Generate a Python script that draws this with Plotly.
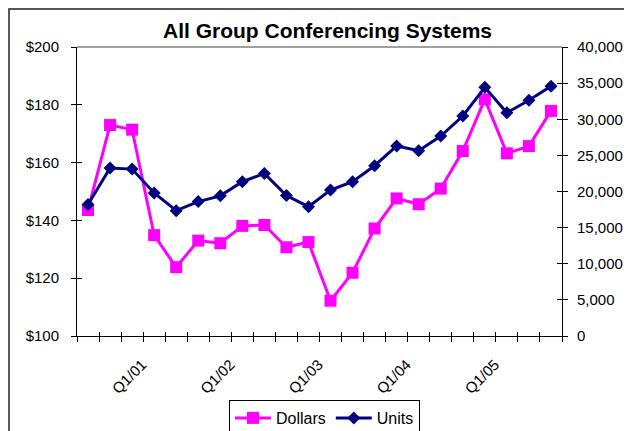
import plotly.graph_objects as go

quarters = ["Q2/00", "Q3/00", "Q4/00", "Q1/01", "Q2/01", "Q3/01", "Q4/01",
            "Q1/02", "Q2/02", "Q3/02", "Q4/02", "Q1/03", "Q2/03", "Q3/03",
            "Q4/03", "Q1/04", "Q2/04", "Q3/04", "Q4/04", "Q1/05", "Q2/05", "Q3/05"]
dollars = [143.6, 173.0, 171.4, 134.9, 123.8, 133.0, 132.1, 138.1, 138.4, 130.7, 132.5,
           112.2, 121.9, 137.2, 147.6, 145.6, 151.0, 164.0, 181.9, 163.2, 165.7, 177.9]
units = [18200, 23250, 23100, 19800, 17350, 18600, 19400, 21360, 22500, 19450, 17900,
         20200, 21360, 23570, 26300, 25650, 27680, 30450, 34420, 30900, 32620, 34560]
label_quarters = ["Q1/01", "Q1/02", "Q1/03", "Q1/04", "Q1/05"]

FONT = "Liberation Sans, Arial, sans-serif"
idx = list(range(len(quarters)))
label_idx = [quarters.index(q) for q in label_quarters]
n = len(quarters)
boundaries = [i - 0.5 for i in range(n + 1)]

fig = go.Figure()
fig.add_trace(go.Scatter(
    x=idx, y=dollars, name="Dollars", mode="lines+markers",
    line=dict(color="#FF00FF", width=3),
    marker=dict(symbol="square", size=12, color="#FF00FF"),
    yaxis="y", cliponaxis=False))
fig.add_trace(go.Scatter(
    x=idx, y=units, name="Units", mode="lines+markers",
    line=dict(color="#000080", width=3),
    marker=dict(symbol="diamond", size=10, color="#000080"),
    yaxis="y2", cliponaxis=False))
# empty helper traces so the overlay axes (inner half of the crossing ticks) are drawn
fig.add_trace(go.Scatter(x=[], y=[], xaxis="x2", yaxis="y3", showlegend=False, hoverinfo="skip"))
fig.add_trace(go.Scatter(x=[], y=[], xaxis="x2", yaxis="y4", showlegend=False, hoverinfo="skip"))

W, H = 624, 423
L, T, PW, PH = 69, 39, 485, 289
R, B = W - L - PW, H - T - PH

tick_common = dict(tickcolor="black", tickwidth=1, showgrid=False, zeroline=False,
                   automargin=False)

fig.update_layout(
    template="none",
    width=W, height=H,
    margin=dict(l=L, r=R, t=T, b=B, pad=0, autoexpand=False),
    paper_bgcolor="white", plot_bgcolor="white",
    font=dict(family=FONT, size=15, color="black"),
    title=dict(text="<b>All Group Conferencing Systems</b>", x=319.5 / W, xanchor="center",
               y=1 - 23 / H, yanchor="middle", font=dict(size=21, family=FONT, color="black")),
    showlegend=True,
    legend=dict(orientation="h", x=(316.5 - L) / PW, xanchor="center",
                y=-(392 - (T + PH)) / PH, yanchor="top", itemwidth=36,
                bordercolor="black", borderwidth=1, bgcolor="white",
                font=dict(size=16, family=FONT), tracegroupgap=0),
    xaxis=dict(range=[-0.5, n - 0.5], tickmode="array", tickvals=label_idx,
               ticktext=label_quarters, tickangle=-45, ticks="outside", ticklen=0,
               ticklabelshift=-12, ticklabelstandoff=13,
               showline=True, linecolor="black", linewidth=1,
               minor=dict(tickmode="array", tickvals=boundaries, ticks="outside",
                          ticklen=5, tickcolor="black", showgrid=False),
               **tick_common),
    xaxis2=dict(range=[-0.5, n - 0.5], overlaying="x", anchor="y", tickmode="array",
                tickvals=boundaries, ticks="inside", ticklen=4, showticklabels=False,
                showline=False, side="bottom", **tick_common),
    yaxis=dict(range=[100, 200], dtick=20, tickprefix="$", ticks="outside", ticklen=5,
               ticklabelstandoff=9, showline=True, linecolor="black", linewidth=1,
               **tick_common),
    yaxis2=dict(range=[0, 40000], dtick=5000, tickformat=",", overlaying="y", side="right",
                ticks="outside", ticklen=5, ticklabelstandoff=6, showline=True,
                linecolor="black", linewidth=1, **tick_common),
    yaxis3=dict(range=[100, 200], dtick=20, overlaying="y", side="left", anchor="x2",
                ticks="inside", ticklen=5, showticklabels=False, showline=False,
                **tick_common),
    yaxis4=dict(range=[0, 40000], dtick=5000, overlaying="y", side="right", anchor="x2",
                ticks="inside", ticklen=5, showticklabels=False, showline=False,
                **tick_common),
    shapes=[
        dict(type="line", xref="paper", yref="paper", x0=0, x1=1, y0=1, y1=1,
             line=dict(color="#808080", width=1.5), layer="below"),
        dict(type="rect", xref="paper", yref="paper", x0=(1 - L) / PW, x1=1.3,
             y0=-0.5, y1=(T + PH - 1) / PH,
             line=dict(color="#222222", width=1.5), fillcolor="rgba(0,0,0,0)"),
    ],
)

fig.write_html("out.html")
